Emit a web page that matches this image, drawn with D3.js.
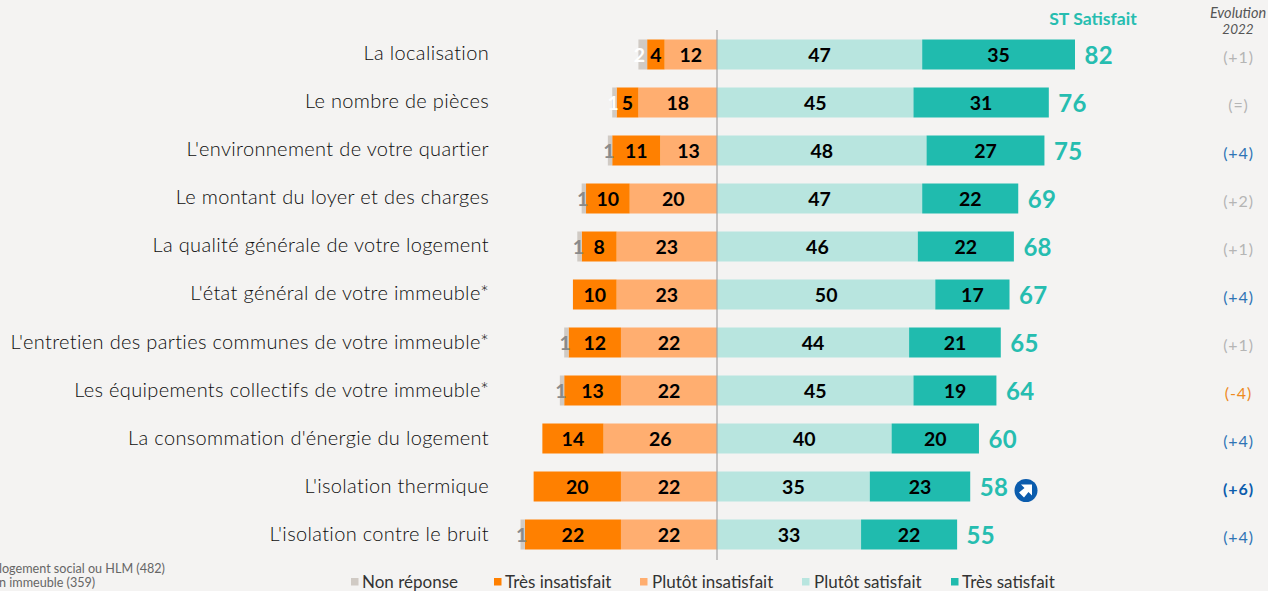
<!DOCTYPE html>
<html><head><meta charset="utf-8">
<script src="https://cdn.jsdelivr.net/npm/d3@7"></script>
<style>
html,body{margin:0;padding:0;background:#f4f3f2;overflow:hidden}
svg{display:block}
text{font-family:"Lato","Open Sans",sans-serif}
</style></head><body>
<svg id="c" width="1268" height="591"></svg>
<script>
const categories = ["La localisation","Le nombre de pièces","L'environnement de votre quartier","Le montant du loyer et des charges","La qualité générale de votre logement","L'état général de votre immeuble*","L'entretien des parties communes de votre immeuble*","Les équipements collectifs de votre immeuble*","La consommation d'énergie du logement","L'isolation thermique","L'isolation contre le bruit"];
const nonReponse = [2,1,1,1,1,0,1,1,0,0,1];
const tresInsatisfait = [4,5,11,10,8,10,12,13,14,20,22];
const plutotInsatisfait = [12,18,13,20,23,23,22,22,26,22,22];
const plutotSatisfait = [47,45,48,47,46,50,44,45,40,35,33];
const tresSatisfait = [35,31,27,22,22,17,21,19,20,23,22];
const stSatisfait = [82,76,75,69,68,67,65,64,60,58,55];
const evolution = ["(+1)","(=)","(+4)","(+2)","(+1)","(+4)","(+1)","(-4)","(+4)","(+6)","(+4)"];
const nonReponseLabelColor = ["#ffffff","#ffffff","#8a8a8a","#8a8a8a","#8a8a8a","#8a8a8a","#8a8a8a","#8a8a8a","#8a8a8a","#8a8a8a","#8a8a8a"];
const legendLabels = ["Non réponse","Très insatisfait","Plutôt insatisfait","Plutôt satisfait","Très satisfait"];
const legendColors = ["#d0cac4","#ff8000","#ffae70","#b8e5df","#20bbae"];
const footnotes = ["logement social ou HLM (482)","n immeuble (359)"];

const legendSwatchX = [351,494,640,802,951];
const legendTextX = [362,505,652,814,962];

const svg = d3.select("#c");
const x = d3.scaleLinear().domain([0,82]).range([717,1075]);
const y = d3.scaleBand().domain(categories).range([30.5,558.5]);
const bh = 30;
const yc = c => y(c)+y.bandwidth()/2;

const yAxis = d3.axisLeft(d3.scalePoint().domain(categories).range([52,533.5])).tickSize(0).tickPadding(0);
const ga = svg.append("g").attr("transform","translate(489,0)").call(yAxis);
ga.select(".domain").remove();
ga.selectAll("text").style("font-size","20px").style("letter-spacing","0.34px").style("fill","#0d0d0d").style("font-family","Lato").style("font-weight",300).attr("dy","0.36em").attr("x",0);

categories.forEach((c,i)=>{
  const top = yc(c)-bh/2;
  const segs = [];
  let neg = 0;
  [[plutotInsatisfait[i],legendColors[2]],[tresInsatisfait[i],legendColors[1]],[nonReponse[i],legendColors[0]]].forEach(([v,col],k)=>{
    if(!v) return;
    segs.push({a:neg+v,b:neg,col,v,k,side:-1}); neg+=v;
  });
  let pos = 0;
  [[plutotSatisfait[i],legendColors[3]],[tresSatisfait[i],legendColors[4]]].forEach(([v,col],k)=>{
    segs.push({a:pos,b:pos+v,col,v,k,side:1}); pos+=v;
  });
  const X = d => d.side<0 ? 2*x(0)-x(d.a) : x(d.a);
  const W = d => x(d.side<0?d.a:d.b)-x(d.side<0?d.b:d.a);
  svg.selectAll(null).data(segs).enter().append("rect")
    .attr("x",X).attr("y",top).attr("width",W).attr("height",bh).attr("fill",d=>d.col);
  svg.selectAll(null).data(segs).enter().append("text")
    .attr("x",d=> (d.side<0&&d.k===2) ? X(d)+1 : X(d)+W(d)/2)
    .attr("y",top+15.5).attr("dy","0.38em").attr("text-anchor","middle")
    .style("font-weight",700).style("font-size","19.5px")
    .style("fill",d=>d.side<0&&d.k===2?nonReponseLabelColor[i]:"#000")
    .text(d=>d.v);
  svg.append("text").attr("x",x(pos)+9.5).attr("y",top+16).attr("dy","0.36em")
    .style("font-weight",700).style("font-size","24px").style("letter-spacing","0.3px").style("fill","#26bdb0").text(stSatisfait[i]);
  const ev = evolution[i];
  const evCol = ev==="(-4)"?"#ee8a1e":(ev==="(+4)"?"#2f74b5":(ev==="(+6)"?"#0b5cad":"#b5b5b5"));
  svg.append("text").attr("x",1238.5).attr("y",top+18).attr("dy","0.36em").attr("text-anchor","middle")
    .style("font-size","16px").style("letter-spacing","0.9px").style("font-weight",ev==="(+6)"?700:400).style("fill",evCol).text(ev);
});

svg.append("line").attr("x1",x(0)).attr("x2",x(0)).attr("y1",30).attr("y2",560).attr("stroke","#a3a3a3").attr("stroke-width",1.2);

svg.append("text").attr("x",1093).attr("y",24.5).attr("text-anchor","middle").style("font-weight",700).style("font-size","17.6px").style("fill","#26bdb0").text("ST Satisfait");
svg.append("text").attr("x",1238).attr("y",18).attr("text-anchor","middle").style("font-style","italic").style("font-size","14.5px").style("fill","#555").text("Evolution");
svg.append("text").attr("x",1238).attr("y",34).attr("text-anchor","middle").style("font-style","italic").style("font-size","13.5px").style("fill","#555").text("2022");

// trend arrow
const arrow = svg.append("g").attr("transform","translate(1026,490.5)");
arrow.append("circle").attr("r",11.5).attr("fill","#0b5cad");
arrow.append("path").attr("d","M-5,-6 L6,-6 L6,5 L2.5,1.5 L-2,7 L-7,2 L-1.5,-2.5 Z").attr("fill","#fff");

footnotes.forEach((t,i)=>svg.append("text").attr("x",-1).attr("y",573+i*14).style("font-size","12.6px").style("fill","#666").text(t));

legendLabels.forEach((t,i)=>{
  svg.append("rect").attr("x",legendSwatchX[i]).attr("y",578).attr("width",7.5).attr("height",7.5).attr("fill",legendColors[i]);
  svg.append("text").attr("x",legendTextX[i]).attr("y",588).style("font-size","17px").style("fill","#333").text(t);
});
</script></body></html>
